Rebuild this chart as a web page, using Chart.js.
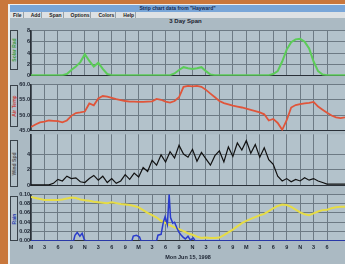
<!DOCTYPE html>
<html>
<head>
<meta charset="utf-8">
<script src="https://cdn.jsdelivr.net/npm/chart.js@4/dist/chart.umd.min.js"></script>
<style>
html, body { margin: 0; padding: 0; width: 345px; height: 264px; overflow: hidden; background: #c9773c; font-family: "Liberation Sans", sans-serif; }
#win { position: absolute; left: 8px; top: 4px; width: 345px; height: 262px; background: #abbac3; border-left: 2px solid #eef0f0; border-top: 1px solid #eef0f0; }
#titlebar { position: absolute; left: 10px; top: 5px; width: 335px; height: 7px; background: #79a6d8; color: #142a55; font-size: 5px; font-weight: bold; line-height: 7px; text-align: center; }
#menubar { position: absolute; left: 10px; top: 12px; width: 335px; height: 6px; background: #dde1e4; color: #222; font-size: 5px; font-weight: bold; line-height: 6px; }
#menubar span { margin: 0 4px 0 2px; padding: 0 1px; border-right: 1px solid #9aa2a8; }
#span { position: absolute; left: 10px; top: 18px; width: 335px; height: 7px; color: #1a2230; font-size: 6px; font-weight: bold; line-height: 7px; text-align: center; padding-left: 16px; box-sizing: border-box; }
.box { position: absolute; left: 10px; width: 6px; border: 1px solid #39424a; background: #b2c0c8; }
.box div { position: absolute; left: 50%; top: 50%; transform: translate(-50%, -50%) rotate(-90deg); font-size: 5px; font-weight: bold; white-space: nowrap; }
canvas { position: absolute; }
</style>
</head>
<body>
<div id="win"></div>
<div id="titlebar">Strip chart data from "Hayward"</div>
<div id="menubar"><span>File</span><span>Add</span><span>Span</span><span>Options</span><span>Colors</span><span>Help</span></div>
<div id="span">3 Day Span</div>
<div class="box" style="top:30px;height:38px"><div style="color:#3a9a3a">Solar Rad</div></div>
<div class="box" style="top:85px;height:40px"><div style="color:#c8403a">Air Temp</div></div>
<div class="box" style="top:140px;height:45px"><div style="color:#555">Wind Spd</div></div>
<div class="box" style="top:196px;height:43px"><div style="color:#2a40b0">Rain</div></div>

<canvas id="greenChart" width="327" height="54" style="left:18px;top:26px"></canvas>
<canvas id="redChart" width="327" height="55" style="left:18px;top:80px"></canvas>
<canvas id="blackChart" width="327" height="60" style="left:18px;top:130px"></canvas>
<canvas id="bottomChart" width="327" height="74" style="left:18px;top:190px"></canvas>

<script>
// x tick labels repeat every 24 hours (3 hour steps)
const hourLabels = ['M', '3', '6', '9', 'N', '3', '6', '9'];
const hours = Array.from({ length: 71 }, (_, i) => i);

// Panel 1 - green
const greenValues = [0.1, 0.1, 0.1, 0.1, 0.1, 0.1, 0.1, 0.1, 0.3, 1.0, 1.6, 2.4, 3.8, 2.6, 1.6, 2.3, 1.2, 0.3, 0.1, 0.1,
    0.1, 0.1, 0.1, 0.1, 0.1, 0.1, 0.1, 0.1, 0.1, 0.1, 0.1, 0.1, 0.4, 1.0, 1.5, 1.3, 1.2, 1.3, 1.5, 0.8,
    0.2, 0.1, 0.1, 0.1, 0.1, 0.1, 0.1, 0.1, 0.1, 0.1, 0.1, 0.1, 0.1, 0.1, 0.3, 0.8, 2.5, 4.6, 5.9, 6.4,
    6.5, 6.0, 4.8, 2.5, 0.8, 0.2, 0.1, 0.1, 0.1, 0.1, 0.1];

// Panel 2 - red
const redValues = [46.2, 47.0, 47.7, 47.9, 48.3, 48.2, 48.1, 47.7, 48.3, 49.8, 50.7, 50.9, 51.2, 53.8, 53.2, 55.4, 56.2, 56.0, 55.6, 55.2,
    54.9, 54.6, 54.4, 54.4, 54.3, 54.3, 54.4, 54.5, 55.3, 55.0, 54.4, 54.1, 54.6, 55.8, 59.2, 59.5, 59.3, 59.5, 59.2, 58.2,
    57.0, 55.8, 54.6, 53.9, 53.5, 53.1, 52.8, 52.5, 52.1, 51.7, 51.3, 50.9, 50.3, 48.3, 48.8, 47.5, 45.3, 48.4, 52.5, 53.3,
    53.6, 53.8, 54.0, 54.3, 52.8, 51.8, 50.8, 49.9, 49.3, 49.1, 49.3];

// Panel 3 - black
const blackValues = [0.1, 0.1, 0.1, 0.1, 0.1, 0.3, 0.8, 0.6, 1.2, 0.9, 1.0, 0.5, 0.4, 0.9, 1.3, 0.7, 1.2, 0.4, 0.9, 0.3,
    0.6, 1.4, 0.8, 1.6, 1.1, 2.3, 1.8, 3.2, 2.6, 3.9, 3.0, 4.3, 3.5, 5.1, 4.0, 3.6, 4.6, 3.1, 4.2, 3.4,
    2.6, 3.8, 4.4, 3.0, 4.9, 3.7, 5.4, 4.5, 5.7, 4.1, 5.2, 3.6, 4.8, 3.3, 2.7, 1.2, 0.6, 0.9, 0.5, 0.8,
    0.6, 1.0, 0.7, 0.9, 0.6, 0.4, 0.2, 0.2, 0.2, 0.2, 0.2];

// Panel 4 - yellow
const yellowValues = [0.094, 0.092, 0.090, 0.088, 0.088, 0.088, 0.088, 0.089, 0.091, 0.093, 0.092, 0.089, 0.087, 0.086, 0.084, 0.083, 0.082, 0.081, 0.083, 0.081,
    0.079, 0.078, 0.077, 0.075, 0.072, 0.066, 0.060, 0.055, 0.050, 0.043, 0.038, 0.033, 0.029, 0.025, 0.021, 0.016, 0.013, 0.009, 0.006, 0.007,
    0.006, 0.006, 0.007, 0.012, 0.018, 0.024, 0.031, 0.038, 0.043, 0.047, 0.051, 0.055, 0.058, 0.064, 0.070, 0.075, 0.078, 0.077, 0.073, 0.067,
    0.061, 0.057, 0.055, 0.059, 0.063, 0.066, 0.067, 0.070, 0.072, 0.073, 0.073];

// Panel 4 - blue (irregular samples)
const blueHours = [0, 9.5, 9.8, 10.3, 10.9, 11.4, 11.9, 12.3, 22.5, 22.8, 23.5, 24.2, 24.5,
    28.0, 28.3, 29.0, 29.5, 29.9, 30.4, 30.8, 31.1, 31.6, 32.0, 32.5, 33.0, 33.5, 33.9, 34.4, 35.0, 35.5, 36.2, 36.6, 70];
const blueValues = [0, 0, 0.012, 0.018, 0.010, 0.016, 0.002, 0, 0, 0.010, 0.012, 0.008, 0,
    0, 0.012, 0.014, 0.040, 0.052, 0.035, 0.100, 0.050, 0.038, 0.040, 0.028, 0.018, 0.012, 0.008, 0.004, 0.010, 0.002, 0.006, 0, 0];

const tickFont = { size: 5.5, weight: 'bold', family: 'Liberation Sans' };
const tickColor = '#1a2230';
const gridColor = '#6d7a84';

const plotBg = {
    id: 'plotBg',
    beforeDraw(chart) {
        const { ctx, chartArea: a } = chart;
        ctx.save();
        ctx.fillStyle = '#b3c2cb';
        ctx.fillRect(a.left, a.top, a.width, a.height);
        ctx.restore();
    }
};

function points(xs, ys) {
    return xs.map((x, i) => ({ x: x, y: ys[i] }));
}

function makeOptions(yMin, yMax, yStep, fmt, showX) {
    return {
        responsive: false,
        animation: false,
        layout: { padding: { top: 3, bottom: 3, left: 0, right: 0 } },
        elements: { point: { radius: 0 }, line: { tension: 0 } },
        plugins: { legend: { display: false }, tooltip: { enabled: false } },
        scales: {
            x: {
                type: 'linear',
                min: 0,
                max: 70,
                afterBuildTicks: s => { s.ticks = s.ticks.filter(t => t.value % 3 === 0); },
                ticks: {
                    display: showX,
                    stepSize: 3,
                    autoSkip: false,
                    maxRotation: 0,
                    padding: 3,
                    font: tickFont,
                    color: tickColor,
                    callback: v => hourLabels[(v / 3) % 8]
                },
                grid: { color: gridColor, lineWidth: 1, drawTicks: false },
                border: { color: '#2a3038', width: 1 },
                title: {
                    display: showX,
                    text: 'Mon Jun 15, 1998',
                    font: tickFont,
                    color: tickColor,
                    padding: { top: 1, bottom: 0 }
                }
            },
            y: {
                min: yMin,
                max: yMax,
                afterFit: s => { s.width = 13; },
                afterBuildTicks: s => {
                    s.ticks = s.ticks.filter(t => {
                        const k = (t.value - yMin) / yStep;
                        return Math.abs(k - Math.round(k)) < 1e-6;
                    });
                },
                ticks: { stepSize: yStep, autoSkip: false, padding: 1, font: tickFont, color: tickColor, callback: fmt },
                grid: { color: gridColor, lineWidth: 1, drawTicks: false },
                border: { color: '#2a3038', width: 1.5 }
            }
        }
    };
}

new Chart(document.getElementById('greenChart'), {
    type: 'line',
    data: {
        datasets: [{ data: points(hours, greenValues), borderColor: '#5ccc58', borderWidth: 2 }]
    },
    options: makeOptions(0, 8, 2, v => String(v), false),
    plugins: [plotBg]
});

new Chart(document.getElementById('redChart'), {
    type: 'line',
    data: {
        datasets: [{ data: points(hours, redValues), borderColor: '#e0553a', borderWidth: 1.8 }]
    },
    options: makeOptions(45, 60, 5, v => v.toFixed(1), false),
    plugins: [plotBg]
});

new Chart(document.getElementById('blackChart'), {
    type: 'line',
    data: {
        datasets: [{ data: points(hours, blackValues), borderColor: '#111111', borderWidth: 1.2 }]
    },
    options: makeOptions(0, 6.5, 2, v => String(v), false),
    plugins: [plotBg]
});

new Chart(document.getElementById('bottomChart'), {
    type: 'line',
    data: {
        datasets: [
            { data: points(blueHours, blueValues), borderColor: '#2a3ccc', borderWidth: 1.5 },
            { data: points(hours, yellowValues), borderColor: '#e6dc46', borderWidth: 2 }
        ]
    },
    options: makeOptions(0, 0.1, 0.02, v => v.toFixed(2), true),
    plugins: [plotBg]
});
</script>
</body>
</html>
